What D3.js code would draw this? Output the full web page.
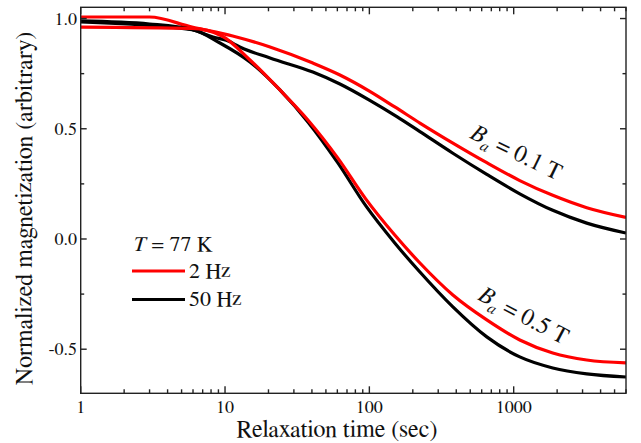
<!DOCTYPE html>
<html><head><meta charset="utf-8">
<script src="https://cdn.jsdelivr.net/npm/d3@7"></script>
</head>
<body style="margin:0;background:#fff">
<svg id="c" width="641" height="443"></svg>
<script>
// Data: relaxation time (sec) and normalized magnetization
const t01red = [1, 3, 5.9, 11.3, 20.5, 40.6, 62.5, 100, 150, 224, 379, 651, 1102, 1865, 3208, 6000];
const v01red = [1.007, 1.007, 0.961, 0.921, 0.871, 0.798, 0.744, 0.671, 0.599, 0.526, 0.435, 0.346, 0.265, 0.198, 0.142, 0.098];
const t01blk = [1, 3, 5.9, 8.25, 11, 11.9, 20.5, 40.6, 62.5, 100, 155, 224, 379, 651, 1102, 1865, 3208, 6000];
const v01blk = [0.989, 0.975, 0.950, 0.916, 0.893, 0.880, 0.821, 0.757, 0.703, 0.630, 0.555, 0.487, 0.389, 0.293, 0.205, 0.130, 0.072, 0.027];
const t05red = [1, 5.9, 9.52, 14.88, 24, 37.5, 60.5, 94.6, 150, 224, 379, 651, 1102, 1865, 3208, 6000];
const v05red = [0.961, 0.955, 0.921, 0.812, 0.676, 0.540, 0.367, 0.181, 0.018, -0.109, -0.254, -0.367, -0.458, -0.517, -0.549, -0.562];
const t05blk = [1, 5.9, 9.22, 14.88, 24, 37.5, 60.5, 94.6, 150, 224, 379, 651, 1102, 1865, 3208, 6000];
const v05blk = [0.985, 0.950, 0.889, 0.803, 0.676, 0.531, 0.345, 0.150, -0.018, -0.150, -0.308, -0.444, -0.535, -0.585, -0.612, -0.626];
const xMajor = [1, 10, 100, 1000];
const xMajorLabels = ["1", "10", "100", "1000"];
const yMajor = [-0.5, 0, 0.5, 1.0];
const yMajorLabels = ["-0.5", "0.0", "0.5", "1.0"];
const yMinor = [-0.25, 0.25, 0.75];
const legendLabels = ["2 Hz", "50 Hz"];
const colors = ["#ff0000", "#000000"];

const svg = d3.select("#c");
function txt(sel) {
  return sel.style("font-family", '"FreeSerif", "Liberation Serif", serif').attr("fill", "#111");
}
const L = 80.7, R = 626, T = 7.3, B = 393.3;
const x = d3.scaleLog().domain([1, 6000]).range([L, R]);
const y = d3.scaleLinear().domain([-0.70, 1.051]).range([B, T]);

const xMinor = [];
for (let d = 1; d <= 1000; d *= 10) for (let k = 2; k <= 9; k++) if (d * k <= 6000) xMinor.push(d * k);

svg.append("clipPath").attr("id", "clp").append("rect")
  .attr("x", L).attr("y", T).attr("width", R - L).attr("height", B - T);

const line = d3.line().x(d => x(d[0])).y(d => y(d[1])).curve(d3.curveMonotoneX);
const series = [
  [t01red, v01red, colors[0]],
  [t01blk, v01blk, colors[1]],
  [t05blk, v05blk, colors[1]],
  [t05red, v05red, colors[0]],
];
const g = svg.append("g").attr("clip-path", "url(#clp)");
series.forEach(([ts, vs, c]) => {
  g.append("path").datum(ts.map((t, i) => [t, vs[i]]))
    .attr("d", line).attr("fill", "none").attr("stroke", c)
    .attr("stroke-width", 3.2).attr("stroke-linejoin", "round");
});

// Axes (ticks inward, mirrored)
const ax = svg.append("g").attr("stroke", "#222").attr("stroke-width", 1.4);
ax.append("rect").attr("x", L).attr("y", T).attr("width", R - L).attr("height", B - T)
  .attr("fill", "none");
xMajor.forEach(v => {
  ax.append("line").attr("x1", x(v)).attr("x2", x(v)).attr("y1", B).attr("y2", B - 7);
  ax.append("line").attr("x1", x(v)).attr("x2", x(v)).attr("y1", T).attr("y2", T + 7);
});
xMinor.forEach(v => {
  ax.append("line").attr("x1", x(v)).attr("x2", x(v)).attr("y1", B).attr("y2", B - 4);
  ax.append("line").attr("x1", x(v)).attr("x2", x(v)).attr("y1", T).attr("y2", T + 4);
});
yMajor.forEach(v => {
  ax.append("line").attr("y1", y(v)).attr("y2", y(v)).attr("x1", L).attr("x2", L + 6);
  ax.append("line").attr("y1", y(v)).attr("y2", y(v)).attr("x1", R).attr("x2", R - 6);
});
yMinor.forEach(v => {
  ax.append("line").attr("y1", y(v)).attr("y2", y(v)).attr("x1", L).attr("x2", L + 3.5);
  ax.append("line").attr("y1", y(v)).attr("y2", y(v)).attr("x1", R).attr("x2", R - 3.5);
});

xMajor.forEach((v, i) => {
  txt(svg.append("text")).attr("x", x(v)).attr("y", 413).attr("text-anchor", "middle")
    .attr("font-size", 18).text(xMajorLabels[i]);
});
yMajor.forEach((v, i) => {
  txt(svg.append("text")).attr("x", 77).attr("y", y(v) + 6).attr("text-anchor", "end")
    .attr("font-size", 18).text(yMajorLabels[i]);
});

txt(svg.append("text")).attr("x", 337).attr("y", 437).attr("text-anchor", "middle")
  .attr("font-size", 24).text("Relaxation time (sec)");
txt(svg.append("text")).attr("transform", "translate(32,208.5) rotate(-90)")
  .attr("text-anchor", "middle").attr("font-size", 24)
  .text("Normalized magnetization (arbitrary)");

// Legend
const lg = txt(svg.append("text")).attr("x", 133).attr("y", 251).attr("font-size", 22);
lg.append("tspan").attr("font-style", "italic").text("T");
lg.append("tspan").text(" = 77 K");
[0, 1].forEach(i => {
  const yy = 271 + i * 28.5;
  svg.append("line").attr("x1", 132).attr("x2", 185).attr("y1", yy).attr("y2", yy)
    .attr("stroke", colors[i]).attr("stroke-width", 3);
  txt(svg.append("text")).attr("x", 189).attr("y", yy + 6.5).attr("font-size", 22).text(legendLabels[i]);
});

// Annotations
function annot(cx, cy, ang, val) {
  const tx = txt(svg.append("text")).attr("transform", `translate(${cx},${cy}) rotate(${ang})`)
    .attr("text-anchor", "middle").attr("font-size", 24);
  tx.append("tspan").attr("font-style", "italic").text("B");
  tx.append("tspan").attr("font-style", "italic").attr("font-size", 16).attr("dy", 6).text("a");
  tx.append("tspan").attr("dy", -6).text(" = " + val + " T");
}
annot(513, 159, 26, "0.1");
annot(520, 322, 28, "0.5");
</script></body></html>
